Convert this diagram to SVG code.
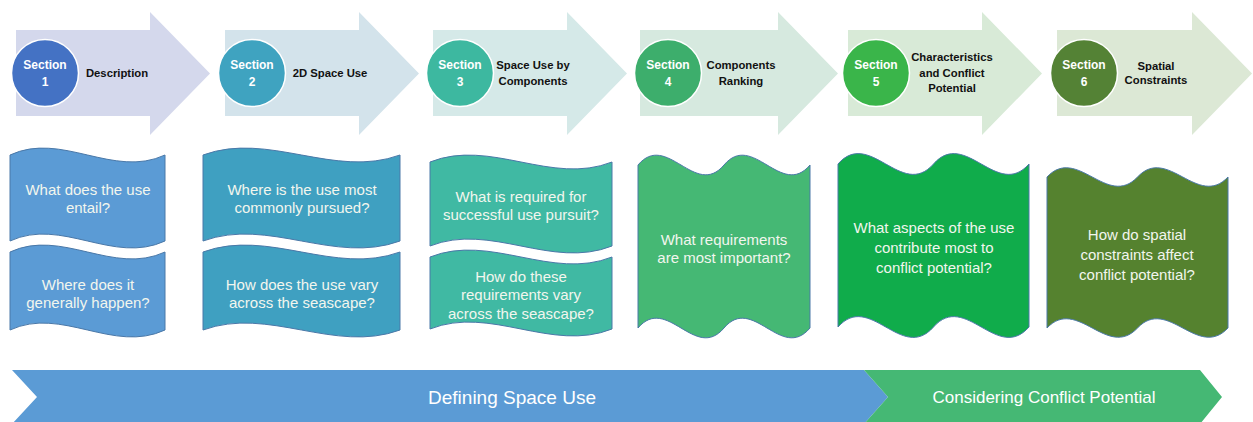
<svg xmlns="http://www.w3.org/2000/svg" width="1253" height="422" viewBox="0 0 1253 422">
<defs>
<style>
.circ{stroke:#ffffff;stroke-width:1.5}
.sec{font-family:"Liberation Sans",Arial,sans-serif;font-weight:bold;font-size:12px;fill:#ffffff;text-anchor:middle}
.lbl{font-family:"Liberation Sans",Arial,sans-serif;font-weight:bold;font-size:11.3px;fill:#111111;text-anchor:middle}
.wave{stroke:#4a78a8;stroke-width:1}
.q{font-family:"Liberation Sans",Arial,sans-serif;font-size:15px;fill:#f2f6ee;text-anchor:middle}
.ban{font-family:"Liberation Sans",Arial,sans-serif;fill:#ffffff;text-anchor:middle}
</style>
</defs>
<rect width="1253" height="422" fill="#ffffff"/>

<g id="connectors"></g>

<g id="step1">
<path d="M16,30 L150,30 L150,12 L210,73.5 L150,135 L150,116 L16,116 Z" fill="#d4d8ec"/>
<circle class="circ" cx="45" cy="73" r="33.5" fill="#4472c4"/>
<text class="sec" x="45" y="69">Section</text>
<text class="sec" x="45" y="86">1</text>
<text class="lbl" x="117" y="77">Description</text>
</g>
<g id="step2">
<path d="M225,30 L359,30 L359,12 L419,73.5 L359,135 L359,116 L225,116 Z" fill="#d3e3eb"/>
<circle class="circ" cx="252" cy="73" r="33.5" fill="#3fa3c0"/>
<text class="sec" x="252" y="69">Section</text>
<text class="sec" x="252" y="86">2</text>
<text class="lbl" x="330" y="77">2D Space Use</text>
</g>
<g id="step3">
<path d="M433,30 L567,30 L567,12 L627,73.5 L567,135 L567,116 L433,116 Z" fill="#d5e9e8"/>
<circle class="circ" cx="460" cy="73" r="33.5" fill="#3db8a0"/>
<text class="sec" x="460" y="69">Section</text>
<text class="sec" x="460" y="86">3</text>
<text class="lbl" x="533" y="69">Space Use by</text>
<text class="lbl" x="533" y="85">Components</text>
</g>
<g id="step4">
<path d="M640,30 L778,30 L778,12 L838,73.5 L778,135 L778,116 L640,116 Z" fill="#d6e9df"/>
<circle class="circ" cx="668" cy="73" r="33.5" fill="#3dae6c"/>
<text class="sec" x="668" y="69">Section</text>
<text class="sec" x="668" y="86">4</text>
<text class="lbl" x="741" y="69">Components</text>
<text class="lbl" x="741" y="85">Ranking</text>
</g>
<g id="step5">
<path d="M848,30 L982,30 L982,12 L1042,73.5 L982,135 L982,116 L848,116 Z" fill="#d8ead7"/>
<circle class="circ" cx="876" cy="73" r="33.5" fill="#3ab54a"/>
<text class="sec" x="876" y="69">Section</text>
<text class="sec" x="876" y="86">5</text>
<text class="lbl" x="952" y="61">Characteristics</text>
<text class="lbl" x="952" y="77">and Conflict</text>
<text class="lbl" x="952" y="92">Potential</text>
</g>
<g id="step6">
<path d="M1057,30 L1192,30 L1192,12 L1252,73.5 L1192,135 L1192,116 L1057,116 Z" fill="#dce8d5"/>
<circle class="circ" cx="1084" cy="73" r="33.5" fill="#548235"/>
<text class="sec" x="1084" y="69">Section</text>
<text class="sec" x="1084" y="86">6</text>
<text class="lbl" x="1156" y="70">Spatial</text>
<text class="lbl" x="1156" y="84">Constraints</text>
</g>

<g id="q1a">
<path class="wave" fill="#5b9bd5" d="M10,155 C61.7,131 113.3,179 165,155 L165,241 C113.3,265 61.7,217 10,241 Z"/>
<text class="q" x="88" y="195">What does the use</text>
<text class="q" x="88" y="213">entail?</text>
</g>
<g id="q1b">
<path class="wave" fill="#5b9bd5" d="M10,252 C61.7,228 113.3,276 165,252 L165,330 C113.3,354 61.7,306 10,330 Z"/>
<text class="q" x="88" y="290">Where does it</text>
<text class="q" x="88" y="308">generally happen?</text>
</g>
<g id="q2a">
<path class="wave" fill="#3fa0c1" d="M203,155 C268.7,131 334.3,179 400,155 L400,241 C334.3,265 268.7,217 203,241 Z"/>
<text class="q" x="302" y="195">Where is the use most</text>
<text class="q" x="302" y="213">commonly pursued?</text>
</g>
<g id="q2b">
<path class="wave" fill="#3fa0c1" d="M203,252 C268.7,228 334.3,276 400,252 L400,330 C334.3,354 268.7,306 203,330 Z"/>
<text class="q" x="302" y="290">How does the use vary</text>
<text class="q" x="302" y="308">across the seascape?</text>
</g>
<g id="q3a">
<path class="wave" fill="#40b9a3" d="M430,162 C490.7,138 551.3,186 612,162 L612,246 C551.3,270 490.7,222 430,246 Z"/>
<text class="q" x="521" y="202">What is required for</text>
<text class="q" x="521" y="220">successful use pursuit?</text>
</g>
<g id="q3b">
<path class="wave" fill="#40b9a3" d="M430,257 C490.7,233 551.3,281 612,257 L612,329 C551.3,353 490.7,305 430,329 Z"/>
<text class="q" x="521" y="282">How do these</text>
<text class="q" x="521" y="300">requirements vary</text>
<text class="q" x="521" y="319">across the seascape?</text>
</g>
<g id="q4">
<path class="wave" fill="#45b874" d="M638,165 C666.7,131 695.3,199 724,165 C752.7,131 781.3,199 810,165 L810,328 C781.3,362 752.7,294 724,328 C695.3,362 666.7,294 638,328 Z"/>
<text class="q" x="724" y="245">What requirements</text>
<text class="q" x="724" y="263">are most important?</text>
</g>
<g id="q5">
<path class="wave" fill="#10ac4b" d="M838,164 C869.8,128 901.7,200 933.5,164 C965.3,128 997.2,200 1029,164 L1029,327 C997.2,363 965.3,291 933.5,327 C901.7,363 869.8,291 838,327 Z"/>
<text class="q" x="934" y="233">What aspects of the use</text>
<text class="q" x="934" y="253">contribute most to</text>
<text class="q" x="934" y="273">conflict potential?</text>
</g>
<g id="q6">
<path class="wave" fill="#55822f" d="M1047,177 C1077.2,145 1107.3,209 1137.5,177 C1167.7,145 1197.8,209 1228,177 L1228,328 C1197.8,360 1167.7,296 1137.5,328 C1107.3,360 1077.2,296 1047,328 Z"/>
<text class="q" x="1137" y="240">How do spatial</text>
<text class="q" x="1137" y="260">constraints affect</text>
<text class="q" x="1137" y="280">conflict potential?</text>
</g>

<g id="banner-define">
<path d="M12,370 L864,370 L888,397 L864,424 L12,424 L37,397 Z" fill="#5b9bd5"/>
<text class="ban" x="512" y="404" font-size="19">Defining Space Use</text>
</g>
<g id="banner-conflict">
<path d="M864,370 L1200,370 L1222,397 L1200,424 L864,424 L888,397 Z" fill="#45b874"/>
<text class="ban" x="1044" y="403" font-size="17">Considering Conflict Potential</text>
</g>
</svg>
